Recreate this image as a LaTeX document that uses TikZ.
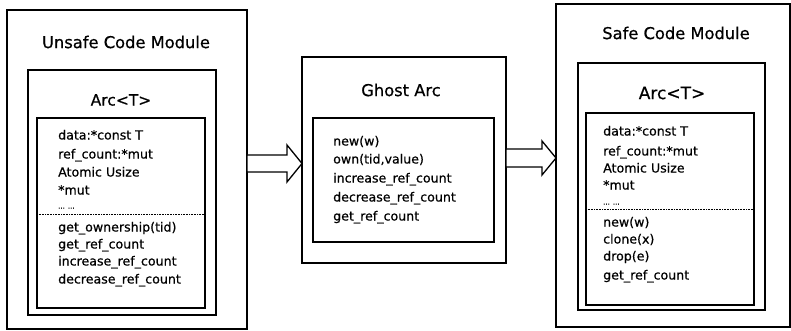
\documentclass[tikz,border=0pt]{standalone}
\usepackage{fontspec}
\setmainfont{DejaVu Sans}[FakeBold=0.6]
\begin{document}
\begin{tikzpicture}[x=1pt,y=-1pt,
  box/.style={draw, inner sep=0pt, outer sep=0pt, anchor=north west},
  outerbox/.style={box, line width=1.3pt},
  arcbox/.style={box, line width=2.3pt},
  innerbox/.style={box, line width=1.9pt},
  title/.style={inner sep=0pt, font=\fontsize{16.3}{19}\selectfont},
  arctitle/.style={inner sep=0pt, font=\fontsize{15.5}{18}\selectfont},
  item/.style={inner sep=0pt, anchor=west, text height=9.5pt, text depth=2.5pt,
    font=\fontsize{12.6}{15}\selectfont},
  sepline/.style={line width=1pt, dash pattern=on 0.8pt off 0.8pt},
  fatarrow/.style={draw, line width=1.3pt, fill=white, line join=miter}]

\useasboundingbox (0,0) rectangle (791,331);

% ---------- unsafe module ----------
\node[outerbox, minimum width=240pt, minimum height=319pt] (uo) at (7,10) {};
\node[title] (ut) at (126,42) {Unsafe Code Module};
\node[arcbox, minimum width=188pt, minimum height=245pt] (ua) at (28,70) {};
\node[arctitle] (uat) at (121,100) {Arc<T>};
\node[innerbox, minimum width=168pt, minimum height=190pt] (ui) at (37,118) {};
\foreach \t/\y [count=\i] in {data:*const T/136, ref\_count:*mut/155,
    Atomic Usize/173, *mut/191, {\fontsize{7}{8}\selectfont ... ...}/205,
    get\_ownership(tid)/228, get\_ref\_count/245, increase\_ref\_count/262,
    decrease\_ref\_count/280}
  \node[item] (u\i) at (58,\y) {\t};
\draw[sepline] (ui.west |- 0,214) -- (ui.east |- 0,214);

% ---------- ghost arc ----------
\node[outerbox, minimum width=204pt, minimum height=206pt] (go) at (302,57) {};
\node[title] (gt) at (401,90) {Ghost Arc};
\node[innerbox, line width=1.6pt, minimum width=181pt, minimum height=124pt] (gi) at (313,118) {};
\foreach \t/\y [count=\i] in {new(w)/142, {own(tid,value)}/160,
    increase\_ref\_count/179, decrease\_ref\_count/198, get\_ref\_count/217}
  \node[item] (g\i) at (333,\y) {\t};

% ---------- safe module ----------
\node[outerbox, minimum width=234pt, minimum height=323pt] (so) at (556,4) {};
\node[title] (st) at (676,33) {Safe Code Module};
\node[arcbox, minimum width=187pt, minimum height=247pt] (sa) at (578,63) {};
\node[arctitle, font=\fontsize{17}{20}\selectfont] (sat) at (672,93) {Arc<T>};
\node[innerbox, minimum width=168pt, minimum height=192pt] (si) at (586,113) {};
\foreach \t/\y [count=\i] in {data:*const T/132, ref\_count:*mut/152,
    Atomic Usize/169, *mut/186, {\fontsize{7}{8}\selectfont ... ...}/201,
    new(w)/223, clone(x)/240, drop(e)/257, get\_ref\_count/276}
  \node[item] (s\i) at (603,\y) {\t};
\draw[sepline] (si.west |- 0,209) -- (si.east |- 0,209);

% ---------- block arrows ----------
\draw[fatarrow] (uo.east |- 0,155) -- (287,155) -- (287,145) -- (go.west |- 0,163.5)
  -- (287,182) -- (287,172) -- (uo.east |- 0,172) -- cycle;
\draw[fatarrow] (go.east |- 0,149) -- (542,149) -- (542,141) -- (so.west |- 0,158)
  -- (542,175) -- (542,167) -- (go.east |- 0,167) -- cycle;
\end{tikzpicture}
\end{document}
